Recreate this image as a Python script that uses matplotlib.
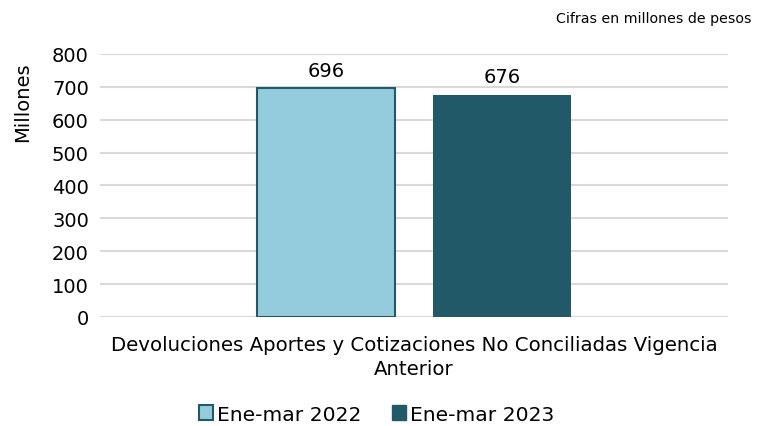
import matplotlib
matplotlib.use("Agg")
import matplotlib.pyplot as plt
from matplotlib.patches import Patch

categories = ["Devoluciones Aportes y Cotizaciones No Conciliadas Vigencia\nAnterior"]
series_names = ["Ene-mar 2022", "Ene-mar 2023"]
values_2022 = [696]
values_2023 = [676]
yticks = [0, 100, 200, 300, 400, 500, 600, 700, 800]

c_light = "#95CCDD"
c_dark = "#215968"

plt.rcParams['font.family'] = ['DejaVu Sans']
fig = plt.figure(figsize=(7.61, 4.27), dpi=100)
ax = fig.add_axes([0.1314, 0.2553, 0.8252, 0.6159])

w = 0.221
off = 0.14
x = list(range(len(categories)))
b1 = ax.bar([i - off for i in x], values_2022, width=w, color=c_light, edgecolor=c_dark, linewidth=1.5, zorder=3)
b2 = ax.bar([i + off for i in x], values_2023, width=w, color=c_dark, edgecolor=c_dark, linewidth=0, zorder=3)

for bars, vals in ((b1, values_2022), (b2, values_2023)):
    for r, v in zip(bars, vals):
        ax.text(r.get_x() + r.get_width() / 2, v + 38, f"{v}", ha="center", va="baseline", fontsize=14, color="#000000")

ax.set_xlim(-0.5, 0.5)
ax.set_ylim(0, 800)
ax.set_yticks(yticks)
ax.set_yticklabels([str(t) for t in yticks], fontsize=14)
ax.set_xticks(x)
ax.set_xticklabels(categories, fontsize=14.2, linespacing=1.3)
ax.tick_params(axis="both", length=0, pad=8)
ax.tick_params(axis="x", pad=13)
ax.yaxis.grid(True, color="#d9d9d9", linewidth=1.5, zorder=0)
for s in ax.spines.values():
    s.set_visible(False)
ax.axhline(0, color="#d9d9d9", linewidth=1.5, zorder=2)

ax.set_ylabel("Millones", fontsize=14)
ax.yaxis.set_label_coords(-0.108, 0.82)

fig.text(0.988, 0.955, "Cifras en millones de pesos", ha="right", va="center", fontsize=10.2)

handles = [Patch(facecolor=c_light, edgecolor=c_dark, linewidth=1.5), Patch(facecolor=c_dark, edgecolor=c_dark)]
fig.legend(handles, series_names, loc="center", bbox_to_anchor=(0.495, 0.028), ncol=2, frameon=False,
           fontsize=14.6, handlelength=0.7, handleheight=0.7, handletextpad=0.2, columnspacing=1.5)

fig.savefig("out.png", dpi=100)
